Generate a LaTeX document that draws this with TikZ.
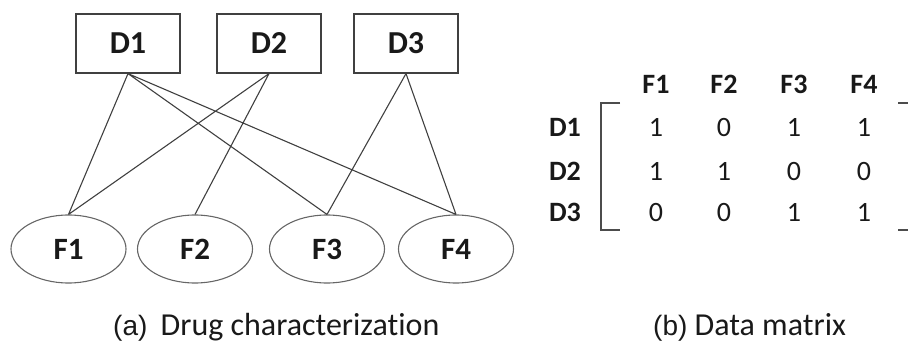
\documentclass[tikz,border=0pt]{standalone}
\usepackage{fontspec}
\setmainfont{Carlito}[Ligatures={NoCommon}]
\newfontfamily\lbl{Liberation Sans}
\usetikzlibrary{shapes.geometric}

\tikzset{
	drugbox/.style={draw=black!75, line width=1.2pt, minimum width=104pt, minimum height=59pt, inner sep=0pt, font=\fontsize{32}{36}\selectfont\bfseries},
	featell/.style={draw=black!60, line width=1.1pt, ellipse, minimum width=115pt, minimum height=68pt, inner sep=0pt, font=\fontsize{31}{36}\selectfont\bfseries},
	link/.style={draw=black!75, line width=1.1pt},
	hdr/.style={anchor=base, inner sep=0pt, font=\fontsize{28}{32}\selectfont\bfseries},
	entry/.style={anchor=base, inner sep=0pt, font=\fontsize{28}{32}\selectfont},
	caption/.style={anchor=base west, inner sep=0pt, font=\fontsize{32}{36}\selectfont}
}

\begin{document}
\begin{tikzpicture}[x=1pt, y=-1pt, text=black!90]
	\useasboundingbox (0,0) rectangle (908,342);
	\clip (0,0) rectangle (908,342);
			% drugs
			\node	(d1) at (128,43.5) [drugbox] {D1};
			\node	(d2) at (269,43.5) [drugbox] {D2};
			\node	(d3) at (406,43.5) [drugbox] {D3};
			% features
			\node	(f1) at (68.5,249) [featell] {F1};
			\node	(f2) at (195,249) [featell] {F2};
			\node	(f3) at (327,249) [featell] {F3};
			\node	(f4) at (456,249) [featell] {F4};
			
			\draw[link]
			(d1.south) -- (f1.north)
			(d1.south) -- (f3.north)
			(d1.south) -- (f4.north)
			(d2.south) -- (f1.north)
			(d2.south) -- (f2.north)
			(d3.south) -- (f3.north)
			(d3.south) -- (f4.north)
			;
			
			% data matrix
				\node	(hf1) at (656,94) [hdr] {F1};
				\node	(hf2) at (724,94) [hdr] {F2};
				\node	(hf3) at (794,94) [hdr] {F3};
				\node	(hf4) at (864,94) [hdr] {F4};
				\node	(rd1) at (565,137) [hdr] {D1};
				\node	(rd2) at (565,180) [hdr] {D2};
				\node	(rd3) at (565,222) [hdr] {D3};
			\node	(m11) at (656,137) [entry] {1};
			\node	(m12) at (724,137) [entry] {0};
			\node	(m13) at (794,137) [entry] {1};
			\node	(m14) at (864,137) [entry] {1};
			\node	(m21) at (656,180) [entry] {1};
			\node	(m22) at (724,180) [entry] {1};
			\node	(m23) at (794,180) [entry] {0};
			\node	(m24) at (864,180) [entry] {0};
			\node	(m31) at (656,222) [entry] {0};
			\node	(m32) at (724,222) [entry] {0};
			\node	(m33) at (794,222) [entry] {1};
			\node	(m34) at (864,222) [entry] {1};
			
			\coordinate (lt) at (620,103);
			\coordinate (lb) at (620,230);
			\coordinate (rt) at (898,103);
			\coordinate (rb) at (898,230);
			\draw[draw=black!70, line width=1.4pt] (lt) -- (601,103) -- (601,230) -- (lb);
			\draw[draw=black!70, line width=1.4pt] (rt) -- (918,103) -- (918,230) -- (rb);
			
			% captions
			\node	(capa) at (113,335) [caption] {{\lbl\fontsize{28}{32}\selectfont (a)}\hspace{6pt} Drug characterization};
			\node	(capb) at (653,335) [caption] {{\lbl\fontsize{28}{32}\selectfont (b)} Data matrix};
\end{tikzpicture}
\end{document}
